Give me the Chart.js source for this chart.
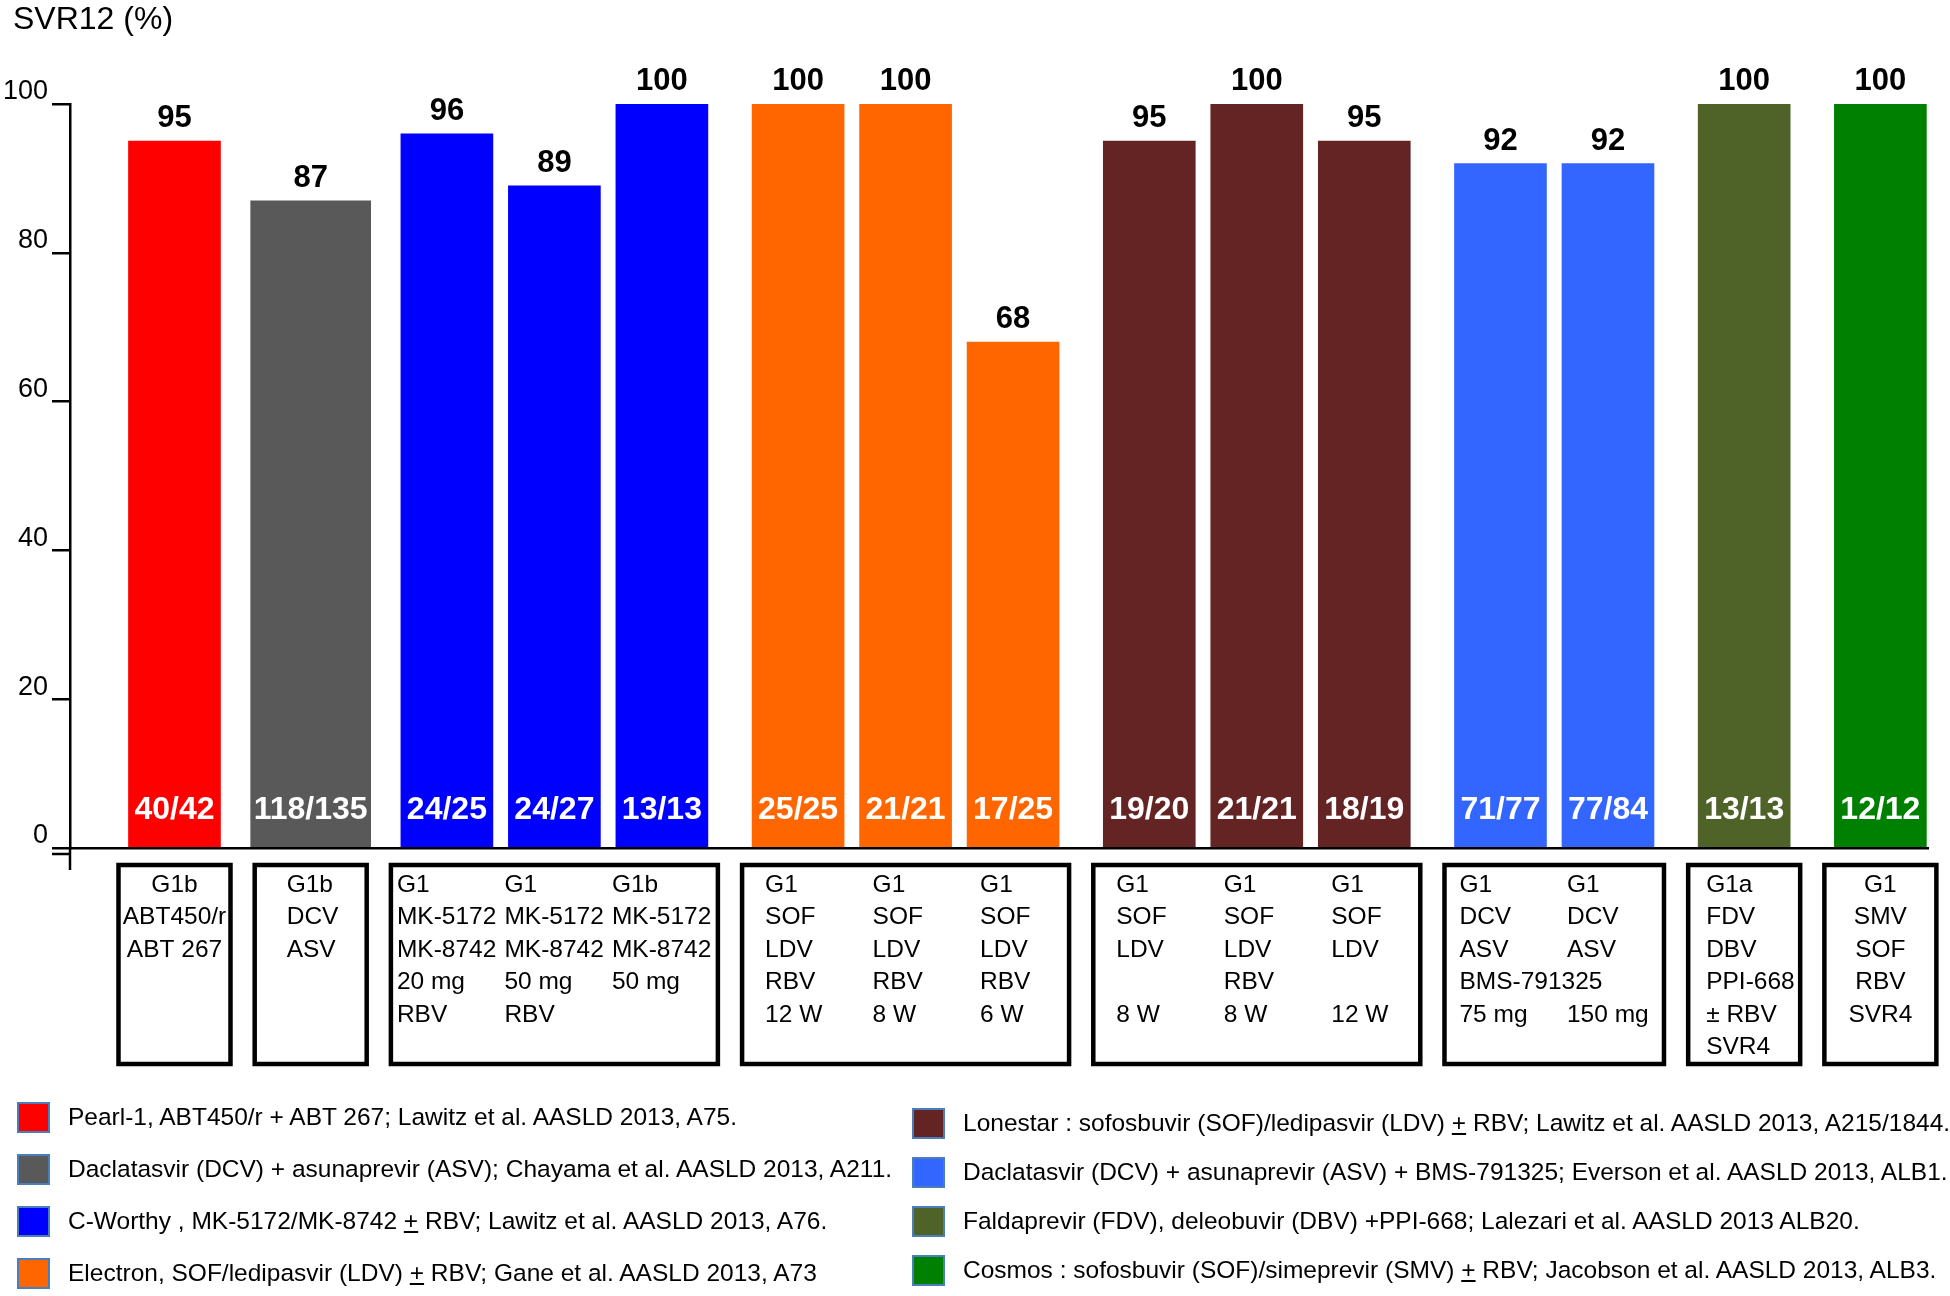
<!DOCTYPE html>
<html>
<head>
<meta charset="utf-8">
<script src="https://cdn.jsdelivr.net/npm/chart.js@4.4.1/dist/chart.umd.min.js"></script>
<style>
html,body{margin:0;padding:0;background:#fff;}
#wrap{position:relative;width:1950px;height:1296px;overflow:hidden;background:#fff;}
#c{position:absolute;left:0;top:0;}
#ytitle{position:absolute;left:13px;top:0px;font-family:'Liberation Sans',Arial,sans-serif;font-size:32px;line-height:36px;color:#000;white-space:nowrap;}
.legend-col{position:absolute;font-family:'Liberation Sans',Arial,sans-serif;font-size:24.5px;color:#000;}
.item{position:absolute;left:0;display:flex;align-items:center;white-space:nowrap;height:32px;transform:translateY(-50%);}
.sw{box-sizing:border-box;width:33px;height:31px;border:2px solid #4a7ebb;flex:none;}
.txt{margin-left:18px;}
</style>
</head>
<body>
<div id="wrap">
<canvas id="c" width="1950" height="1296"></canvas>
<div id="ytitle"></div>
<div id="legL" class="legend-col"></div>
<div id="legR" class="legend-col"></div>
</div>
<script>
// ---------------- DATA ----------------
const yTitle = 'SVR12 (%)';
const yTicks = [0, 20, 40, 60, 80, 100];
const studies = [
  'Pearl-1, ABT450/r + ABT 267; Lawitz et al. AASLD 2013, A75.',
  'Daclatasvir (DCV) + asunaprevir (ASV); Chayama et al. AASLD 2013, A211.',
  'C-Worthy , MK-5172/MK-8742 {+} RBV; Lawitz et al. AASLD 2013, A76.',
  'Electron, SOF/ledipasvir (LDV) {+} RBV; Gane et al. AASLD 2013, A73',
  'Lonestar : sofosbuvir (SOF)/ledipasvir (LDV) {+} RBV; Lawitz et al. AASLD 2013, A215/1844.',
  'Daclatasvir (DCV) + asunaprevir (ASV) + BMS-791325; Everson et al. AASLD 2013, ALB1.',
  'Faldaprevir (FDV), deleobuvir (DBV) +PPI-668; Lalezari et al. AASLD 2013 ALB20.',
  'Cosmos : sofosbuvir (SOF)/simeprevir (SMV) {+} RBV; Jacobson et al. AASLD 2013, ALB3.'
];
const studyOfBar = [0, 1, 2, 2, 2, 3, 3, 3, 4, 4, 4, 5, 5, 6, 7];
const svr12 = [95, 87, 96, 89, 100, 100, 100, 68, 95, 100, 95, 92, 92, 100, 100];
const responders = ['40/42', '118/135', '24/25', '24/27', '13/13', '25/25', '21/21', '17/25',
                    '19/20', '21/21', '18/19', '71/77', '77/84', '13/13', '12/12'];
const regimens = [
  ['G1b', 'ABT450/r', 'ABT 267'],
  ['G1b', 'DCV', 'ASV'],
  ['G1', 'MK-5172', 'MK-8742', '20 mg', 'RBV'],
  ['G1', 'MK-5172', 'MK-8742', '50 mg', 'RBV'],
  ['G1b', 'MK-5172', 'MK-8742', '50 mg'],
  ['G1', 'SOF', 'LDV', 'RBV', '12 W'],
  ['G1', 'SOF', 'LDV', 'RBV', '8 W'],
  ['G1', 'SOF', 'LDV', 'RBV', '6 W'],
  ['G1', 'SOF', 'LDV', '', '8 W'],
  ['G1', 'SOF', 'LDV', 'RBV', '8 W'],
  ['G1', 'SOF', 'LDV', '', '12 W'],
  ['G1', 'DCV', 'ASV', 'BMS-791325', '75 mg'],
  ['G1', 'DCV', 'ASV', '', '150 mg'],
  ['G1a', 'FDV', 'DBV', 'PPI-668', '± RBV', 'SVR4'],
  ['G1', 'SMV', 'SOF', 'RBV', 'SVR4']
];

// ---------------- STYLE / LAYOUT ----------------
const FONT = "'Liberation Sans', Arial, sans-serif";
const studyColors = ['#ff0000', '#595959', '#0000ff', '#ff6600', '#632423', '#3366ff', '#4f6228', '#008000'];
const barWidths = [92, 120, 92, 92, 92, 92, 92, 92];
const GROUP_GAP = 0.267;          // extra spacing between study groups (in bar slots)
const BOX_HALF = 56;              // half-width of box around outer bars
const boxTextAlign = ['center', 'left', 'left', 'left', 'left', 'left', 'left', 'center'];
const boxTextShift = [0, -24, -50, -33, -33, -41, -38, 0];

const slotPos = studyOfBar.map((g, i) => i + g * GROUP_GAP);

Chart.defaults.font.family = FONT;
document.getElementById('ytitle').textContent = yTitle;

const datasets = studies.map((name, s) => {
  const idx = studyOfBar.map((g, i) => g === s ? i : -1).filter(i => i >= 0);
  return {
    label: name,
    barIdx: idx,
    data: idx.map(i => ({x: slotPos[i], y: svr12[i]})),
    backgroundColor: studyColors[s],
    borderWidth: 0,
    barThickness: barWidths[s],
    grouped: false
  };
});

const barTexts = {
  id: 'barTexts',
  afterDatasetsDraw(chart) {
    const ctx = chart.ctx;
    ctx.save();
    ctx.textAlign = 'center';
    ctx.textBaseline = 'alphabetic';
    chart.data.datasets.forEach((ds, di) => {
      chart.getDatasetMeta(di).data.forEach((bar, j) => {
        const i = ds.barIdx[j];
        const p = bar.getProps(['x', 'y', 'base'], true);
        ctx.font = `bold 31px ${FONT}`;
        ctx.fillStyle = '#000';
        ctx.fillText(String(svr12[i]), p.x, p.y - 14);
        ctx.font = `bold 32px ${FONT}`;
        ctx.fillStyle = '#fff';
        ctx.fillText(responders[i], p.x, p.base - 28);
      });
    });
    ctx.restore();
  }
};

const regimenBoxes = {
  id: 'regimenBoxes',
  afterDraw(chart) {
    const ctx = chart.ctx, xs = chart.scales.x, ca = chart.chartArea;
    ctx.save();
    // y-axis continues a little below zero, with a second short tick under 0
    ctx.strokeStyle = '#000';
    ctx.lineWidth = 2.5;
    ctx.beginPath();
    ctx.moveTo(ca.left, ca.bottom);
    ctx.lineTo(ca.left, ca.bottom + 22);
    ctx.moveTo(ca.left - 18, ca.bottom + 6);
    ctx.lineTo(ca.left, ca.bottom + 6);
    ctx.stroke();
    studies.forEach((_, g) => {
      const idx = studyOfBar.map((s, i) => s === g ? i : -1).filter(i => i >= 0);
      const left = xs.getPixelForValue(slotPos[idx[0]]) - BOX_HALF;
      const right = xs.getPixelForValue(slotPos[idx[idx.length - 1]]) + BOX_HALF;
      const top = ca.bottom + 17, bottom = ca.bottom + 216;
      ctx.lineWidth = 4.5;
      ctx.strokeStyle = '#000';
      ctx.strokeRect(left, top, right - left, bottom - top);
      ctx.font = `24.5px ${FONT}`;
      ctx.fillStyle = '#000';
      ctx.textBaseline = 'middle';
      ctx.textAlign = boxTextAlign[g];
      idx.forEach(i => {
        const cx = xs.getPixelForValue(slotPos[i]);
        const x = boxTextAlign[g] === 'center' ? cx : cx + boxTextShift[g];
        regimens[i].forEach((line, k) => ctx.fillText(line, x, ca.bottom + 37 + k * 32.5));
      });
    });
    ctx.restore();
  }
};

new Chart(document.getElementById('c'), {
  type: 'bar',
  data: {datasets},
  plugins: [barTexts, regimenBoxes],
  options: {
    responsive: false,
    animation: false,
    layout: {padding: {left: 0, right: 22, top: 104, bottom: 218}},
    plugins: {
      legend: {display: false},
      tooltip: {enabled: false},
      title: {display: false}
    },
    scales: {
      x: {
        type: 'linear', bounds: 'data', offset: false, min: -0.972, max: 16.312,
        grid: {display: false, offset: false},
        ticks: {display: false},
        border: {display: true, color: '#000', width: 2.5},
        afterFit: s => { s.height = 230; s.paddingLeft = 0; s.paddingRight = 0; }
      },
      y: {
        min: 0, max: 100,
        afterBuildTicks: s => { s.ticks = yTicks.map(v => ({value: v})); },
        grid: {display: true, drawOnChartArea: false, drawTicks: true, tickLength: 18, color: '#000', lineWidth: 2.5},
        border: {display: true, color: '#000', width: 2.5},
        ticks: {color: '#000', font: {size: 27}, padding: 4, labelOffset: -12},
        afterFit: s => { s.width = 70; }
      }
    }
  }
});

// ---------------- LEGEND (HTML) ----------------
function legendItem(s, centerY) {
  const d = document.createElement('div');
  d.className = 'item';
  d.style.top = centerY + 'px';
  const sw = document.createElement('span');
  sw.className = 'sw';
  sw.style.background = studyColors[s];
  const t = document.createElement('span');
  t.className = 'txt';
  t.innerHTML = studies[s].replace(/\{\+\}/g, '<u>+</u>');
  d.appendChild(sw); d.appendChild(t);
  return d;
}
const legL = document.getElementById('legL');
const legR = document.getElementById('legR');
legL.style.left = '17px'; legL.style.top = '1117px';
legR.style.left = '912px'; legR.style.top = '1123px';
[0, 1, 2, 3].forEach((s, k) => legL.appendChild(legendItem(s, k * 52)));
[4, 5, 6, 7].forEach((s, k) => legR.appendChild(legendItem(s, k * 49)));
</script>
</body>
</html>
